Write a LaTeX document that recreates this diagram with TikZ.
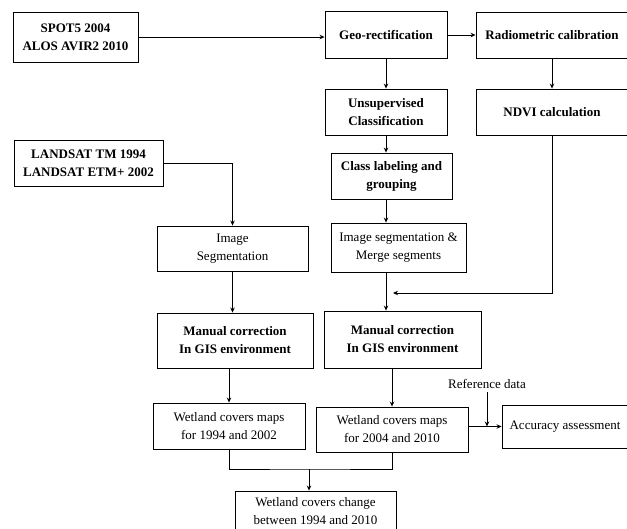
\documentclass[tikz,border=0pt]{standalone}
\usepackage{fontspec}
\setmainfont{Liberation Serif}
\usetikzlibrary{arrows.meta}

\tikzset{
  blk/.style={draw, line width=0.9pt, align=center, inner sep=2pt, font=\fontsize{13}{18}\selectfont},
  blkb/.style={blk, font=\fontsize{13}{18}\selectfont\bfseries},
  arr/.style={-{Stealth[length=5pt,width=4.5pt]}, line width=0.9pt}
}

\begin{document}
\begin{tikzpicture}[x=1pt, y=-1pt]
\useasboundingbox (0,0) rectangle (627,528);
% satellite data
\node[blkb, minimum width=125, minimum height=50] (spot) at (75.5,37) {SPOT5 2004\\ALOS AVIR2 2010};
\node[blkb, minimum width=149, minimum height=46] (landsat) at (88.5,163) {LANDSAT TM 1994\\LANDSAT ETM+ 2002};
% right branch
\node[blkb, minimum width=122, minimum height=47] (geo) at (386,35) {Geo-rectification};
\node[blkb, minimum width=152, minimum height=46] (radio) at (552,35) {Radiometric calibration};
\node[blkb, minimum width=122, minimum height=46] (unsup) at (386,112) {Unsupervised\\Classification};
\node[blkb, minimum width=152, minimum height=46] (ndvi) at (552,112) {NDVI calculation};
\node[blkb, minimum width=121, minimum height=46] (classl) at (391.5,176) {Class labeling and\\grouping};
\node[blk, minimum width=135, minimum height=49] (imgmerge) at (398.5,247.5) {Image segmentation \&\\Merge segments};
\node[blkb, minimum width=157, minimum height=57] (manR) at (402.5,339.5) {Manual correction\\In GIS environment};
\node[blk, minimum width=152, minimum height=45] (wetR) at (392,429.5) {Wetland covers maps\\for 2004 and 2010};
\node[blk, minimum width=126, minimum height=43] (acc) at (565,426.5) {Accuracy assessment};
\node[font=\fontsize{13}{18}\selectfont] (ref) at (487,384) {Reference data};
% left branch
\node[blk, minimum width=151, minimum height=45] (imgseg) at (232.5,248.5) {Image\\Segmentation};
\node[blkb, minimum width=156, minimum height=55] (manL) at (235,340.5) {Manual correction\\In GIS environment};
\node[blk, minimum width=152, minimum height=46] (wetL) at (229,426) {Wetland covers maps\\for 1994 and 2002};
% result
\node[blk, minimum width=161, minimum height=40] (change) at (315.5,511) {Wetland covers change\\between 1994 and 2010};
\coordinate (mrg) at (393,293);
\coordinate (jn) at (309,469);

\draw[arr] (spot.east) -- (spot.east -| geo.west);
\draw[arr] (geo.east) -- (radio.west);
\draw[arr] (geo) -- (unsup);
\draw[arr] (radio) -- (ndvi);
\draw[arr] (unsup.south) -- (unsup.south |- classl.north);
\draw[arr] (unsup.south |- classl.south) -- (unsup.south |- imgmerge.north);
\draw[line width=0.9pt] (unsup.south |- imgmerge.south) -- (unsup.south |- mrg);
\draw[arr] (ndvi.south) |- (mrg);
\draw[arr] (unsup.south |- mrg) -- (unsup.south |- manR.north);
\draw[arr] (wetR.north |- manR.south) -- (wetR.north);
\draw[line width=0.9pt] (wetR.east |- acc.west) -- (ref.south |- acc.west);
\draw[arr] (ref.south |- acc.west) -- (acc.west);
\draw[arr] (ref.south) -- (ref.south |- acc.west);
\draw[arr] (landsat.east) -| (imgseg.north);
\draw[arr] (imgseg) -- (imgseg |- manL.north);
\draw[arr] (wetL.north |- manL.south) -- (wetL.north);
\draw[line width=0.9pt] (wetL.south) |- (jn) -| (wetR.south);
\draw[arr] (jn) -- (jn |- change.north);
\end{tikzpicture}
\end{document}
